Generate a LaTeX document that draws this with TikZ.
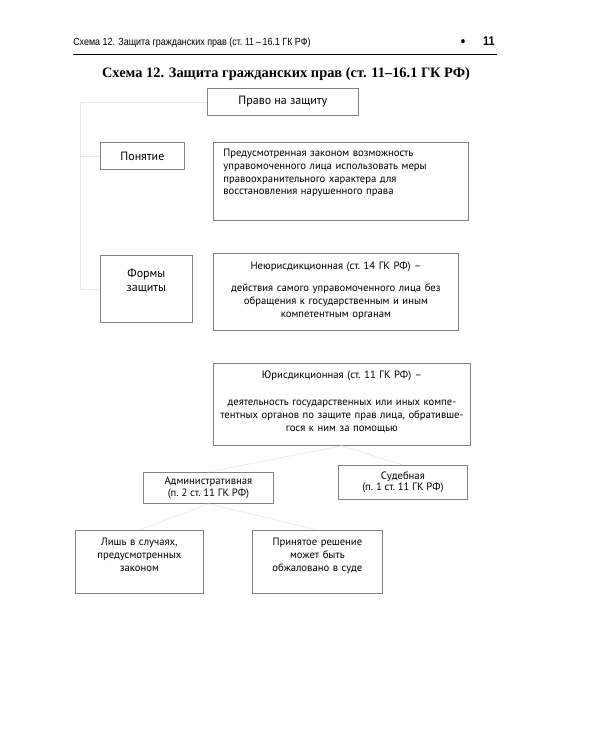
\documentclass[tikz,border=0pt]{standalone}
\usepackage{fontspec}
\setmainfont{Liberation Serif}
\newfontfamily\boxfont[Ligatures=TeX]{PT Sans}
\newfontfamily\headfont[FakeStretch=0.86,Ligatures=TeX]{Liberation Sans}
\usetikzlibrary{positioning}
\definecolor{schemegray}{RGB}{130,130,130}
\definecolor{linkgray}{RGB}{232,232,232}
\tikzset{
  schemebox/.style={
    draw=schemegray,
    line width=0.6pt,
    anchor=north west,
    align=center,
    inner xsep=4pt,
    inner ysep=3pt,
    font=\boxfont\fontsize{8}{9.6}\selectfont
  },
  schemehead/.style={schemebox, font=\boxfont\fontsize{9}{10.5}\selectfont},
  schemelink/.style={draw=linkgray, line width=0.5pt}
}

\begin{document}
\begin{tikzpicture}[x=0.75pt, y=-0.75pt]
    \useasboundingbox[fill=white] (0,0) rectangle (600,750);

    % running head and title
    \node[anchor=base west, inner sep=0pt, font=\headfont\fontsize{7.8}{9}\selectfont] (runhead) at (73,45)
      {Схема 12. Защита гражданских прав (ст.~11\,–\,16.1 ГК~РФ)};
    \node[anchor=base, inner sep=0pt, font=\headfont\bfseries\fontsize{11}{12}\selectfont] (bullet) at (463,46) {•};
    \node[anchor=base east, inner sep=0pt, font=\headfont\bfseries\fontsize{9.5}{10}\selectfont] (pagenum) at (495,45) {11};
    \draw[line width=0.8pt] (73,54.5) -- (497,54.5);
    \node[anchor=base, inner sep=0pt, font=\bfseries\fontsize{10.8}{13}\selectfont] (title) at (286,77.5)
      {Схема 12. Защита гражданских прав (ст. 11–16.1 ГК РФ)};

    % boxes
    \node[schemehead, minimum width=113.25pt, minimum height=20.25pt] (pravo) at (207,88) {Право на защиту};
    \node[schemehead, minimum width=63pt, minimum height=20.25pt] (ponyatie) at (100,142) {Понятие};
    \node[schemebox, align=left, inner xsep=7.5pt, text width=176.25pt, text height=7.5pt, text depth=45pt] (opredel) at (213,142)
      {Предусмотренная законом возможность\\
       управомоченного лица использовать меры\\
       правоохранительного характера для\\
       восстановления нарушенного права};

    \node[schemehead, text width=61pt, text height=13.5pt, text depth=30.75pt] (formy) at (100,255) {Формы\\защиты};
    \node[schemebox, text width=175.75pt, text height=9pt, text depth=42.75pt] (neyur) at (213,253)
      {Неюрисдикционная (ст.~14 ГК~РФ)~–\\[7pt]
       действия самого управомоченного лица без\\
       обращения к государственным и иным\\
       компетентным органам};
    \node[schemebox, text width=184.75pt, text height=8.25pt, text depth=47.25pt] (yur) at (213,363)
      {Юрисдикционная (ст.~11 ГК~РФ)~–\\[11pt]
       деятельность государственных или иных компе-\\
       тентных органов по защите прав лица, обративше-\\
       гося к ним за помощью};

    \node[schemebox, minimum width=97.5pt, minimum height=23.25pt, font=\boxfont\fontsize{8}{8.6}\selectfont] (admin) at (143,472)
      {Административная\\(п.~2 ст.~11 ГК~РФ)};
    \node[schemebox, minimum width=96.75pt, minimum height=25.5pt, font=\boxfont\fontsize{8}{8.6}\selectfont] (sud) at (338,465)
      {Судебная\\(п.~1 ст.~11 ГК~РФ)};

    \node[schemebox, text width=88pt, text height=8.25pt, text depth=33pt] (lish) at (75,530)
      {Лишь в случаях,\\предусмотренных\\законом};
    \node[schemebox, text width=89.5pt, text height=8.25pt, text depth=33pt] (prinyat) at (252,530)
      {Принятое решение\\может быть\\обжаловано в суде};

    % faded connectors
    \coordinate (rail) at (80,0);
    \draw[schemelink] (pravo.west) -| (formy.west -| rail) -- (formy.west);
    \draw[schemelink] (ponyatie.west -| rail) -- (ponyatie.west);
    \draw[schemelink] (yur.south) -- (admin.north);
    \draw[schemelink] (yur.south) -- (sud.north);
    \draw[schemelink] (admin.south) -- (lish.north);
    \draw[schemelink] (admin.south) -- (prinyat.north);
  \end{tikzpicture}
\end{document}
